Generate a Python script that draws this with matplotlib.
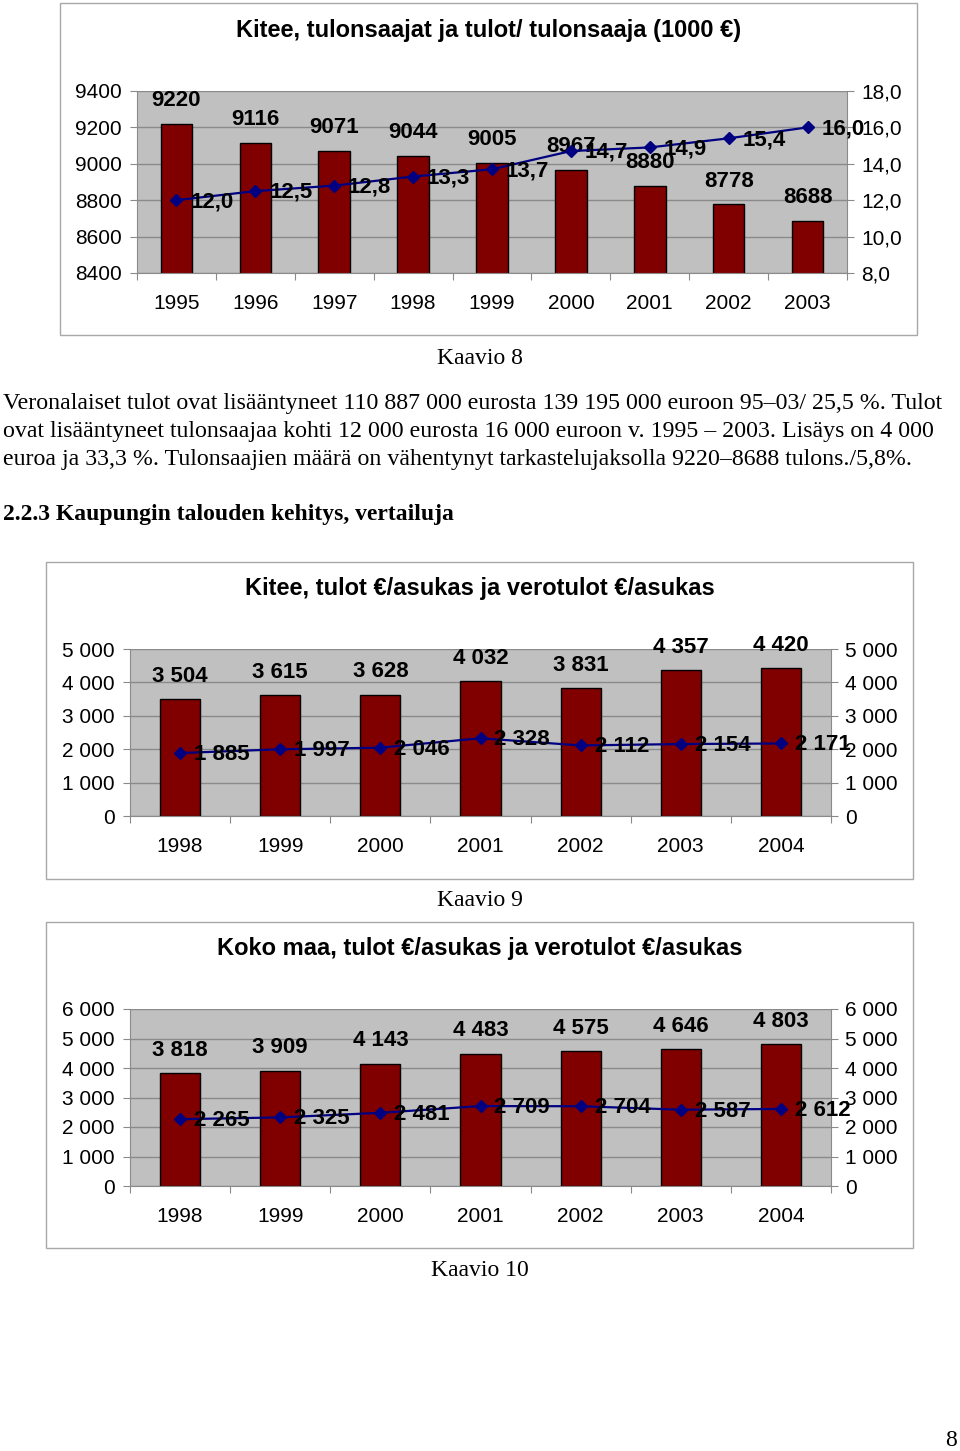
import matplotlib.pyplot as plt
import numpy as np
from matplotlib.patches import Rectangle
from matplotlib.ticker import FixedLocator

# --- data ---
years1 = ['1995', '1996', '1997', '1998', '1999', '2000', '2001', '2002', '2003']
earners1 = [9220, 9116, 9071, 9044, 9005, 8967, 8880, 8778, 8688]
income1 = [12.0, 12.5, 12.8, 13.3, 13.7, 14.7, 14.9, 15.4, 16.0]

years2 = ['1998', '1999', '2000', '2001', '2002', '2003', '2004']
kitee_income = [3504, 3615, 3628, 4032, 3831, 4357, 4420]
kitee_tax = [1885, 1997, 2046, 2328, 2112, 2154, 2171]

whole_income = [3818, 3909, 4143, 4483, 4575, 4646, 4803]
whole_tax = [2265, 2325, 2481, 2709, 2704, 2587, 2612]

title1 = 'Kitee, tulonsaajat ja tulot/ tulonsaaja (1000 €)'
title2 = 'Kitee, tulot €/asukas ja verotulot €/asukas'
title3 = 'Koko maa, tulot €/asukas ja verotulot €/asukas'

para = ['Veronalaiset tulot ovat lisääntyneet 110 887 000 eurosta 139 195 000 euroon 95–03/ 25,5 %. Tulot',
        'ovat lisääntyneet tulonsaajaa kohti 12 000 eurosta 16 000 euroon v. 1995 – 2003. Lisäys on 4 000',
        'euroa ja 33,3 %. Tulonsaajien määrä on vähentynyt tarkastelujaksolla 9220–8688 tulons./5,8%.']
heading = '2.2.3 Kaupungin talouden kehitys, vertailuja'

W, H = 960, 1451
SANS = 'Liberation Sans'
SERIF = 'Liberation Serif'
BAR = '#800000'
LINE = '#000080'
BG = '#c0c0c0'
GRID = '#8a8a8a'
TICK_FS = 15
LAB_FS = 16

fig = plt.figure(figsize=(W / 100, H / 100), dpi=100)


def axes_px(l, t, r, b):
    return fig.add_axes([l / W, 1 - b / H, (r - l) / W, (b - t) / H])


def ftext(x, y, s, **kw):
    fig.text(x / W, 1 - y / H, s, **kw)


def frame(l, t, r, b):
    fig.add_artist(Rectangle((l / W, 1 - b / H), (r - l) / W, (b - t) / H,
                             transform=fig.transFigure, fill=False,
                             ec='#a8a8a8', lw=1))


def sp(v):
    return f'{v:,}'.replace(',', ' ')


def combo(box, cats, bars, line, ylim, step, fmt_l, fmt_r, ylim2, step2, lab_bar, lab_line):
    ax = axes_px(*box)
    n = len(cats)
    x = np.arange(n)
    ax.set_facecolor(BG)
    ax.bar(x, bars, width=0.4, color=BAR, edgecolor='black', lw=1, zorder=2)
    ax.set_xlim(-0.5, n - 0.5)
    ax.set_ylim(*ylim)
    yt = np.arange(ylim[0], ylim[1] + step / 2, step)
    ax.set_yticks(yt)
    ax.set_yticklabels([fmt_l(v) for v in yt])
    ax.yaxis.grid(True, color=GRID, lw=1, zorder=1)
    ax.set_axisbelow(True)
    ax.set_xticks(np.arange(-0.5, n, 1.0))
    ax.set_xticklabels([])
    ax.xaxis.set_minor_locator(FixedLocator(x))
    ax.set_xticks(x, minor=True)
    ax.set_xticklabels(cats, minor=True)
    ax.tick_params(axis='x', which='major', length=5, color=GRID)
    ax.tick_params(axis='x', which='minor', length=0, pad=15, labelsize=TICK_FS)
    ax.tick_params(axis='y', length=5, color=GRID, pad=6, labelsize=TICK_FS)
    for s in ['top', 'right']:
        ax.spines[s].set_visible(False)
    for s in ['left', 'bottom']:
        ax.spines[s].set_color(GRID)
    for xi, v in zip(x, bars):
        ax.annotate(lab_bar(v), (xi, v), xytext=(0, 16.5), textcoords='offset points',
                    ha='center', va='center', fontsize=LAB_FS, fontweight='bold',
                    fontfamily=SANS, annotation_clip=False)

    ax2 = ax.twinx()
    ax2.plot(x, line, color=LINE, lw=1.6, marker='D', ms=6.5, mfc=LINE, mec=LINE, zorder=3)
    ax2.set_ylim(*ylim2)
    yt2 = np.arange(ylim2[0], ylim2[1] + step2 / 2, step2)
    ax2.set_yticks(yt2)
    ax2.set_yticklabels([fmt_r(v) for v in yt2])
    ax2.tick_params(axis='y', length=5, color=GRID, pad=5, labelsize=TICK_FS)
    for s in ['top', 'left', 'bottom']:
        ax2.spines[s].set_visible(False)
    ax2.spines['right'].set_color(GRID)
    for xi, v in zip(x, line):
        ax2.annotate(lab_line(v), (xi, v), xytext=(10, -1), textcoords='offset points',
                     ha='left', va='center', fontsize=LAB_FS, fontweight='bold',
                     fontfamily=SANS, annotation_clip=False)
    return ax, ax2


plt.rcParams['font.family'] = [SANS, 'DejaVu Sans']

# chart 1
frame(60, 3, 917, 335)
ftext(489, 30, title1, ha='center', va='center', fontsize=17, fontweight='bold')
combo((137, 91, 847, 273), years1, earners1, income1, (8400, 9400), 200,
      lambda v: f'{int(v)}', lambda v: f'{v:.1f}'.replace('.', ','),
      (8, 18), 2, lambda v: f'{v}', lambda v: f'{v:.1f}'.replace('.', ','))

ftext(480, 358, 'Kaavio 8', ha='center', va='center', fontsize=17, fontfamily=SERIF)
for i, line in enumerate(para):
    ftext(3, 404 + i * 27.5, line, ha='left', va='center', fontsize=17.2, fontfamily=SERIF)
ftext(3, 514, heading, ha='left', va='center', fontsize=17, fontweight='bold', fontfamily=SERIF)

# chart 2
frame(46, 562, 913, 879)
ftext(480, 588, title2, ha='center', va='center', fontsize=17, fontweight='bold')
combo((130, 649, 831, 816), years2, kitee_income, kitee_tax, (0, 5000), 1000,
      lambda v: sp(int(v)), lambda v: sp(int(v)),
      (0, 5000), 1000, sp, sp)
ftext(480, 901, 'Kaavio 9', ha='center', va='center', fontsize=17, fontfamily=SERIF)

# chart 3
frame(46, 922, 913, 1248)
ftext(480, 948, title3, ha='center', va='center', fontsize=17, fontweight='bold')
combo((130, 1009, 831, 1186), years2, whole_income, whole_tax, (0, 6000), 1000,
      lambda v: sp(int(v)), lambda v: sp(int(v)),
      (0, 6000), 1000, sp, sp)
ftext(480, 1270, 'Kaavio 10', ha='center', va='center', fontsize=17, fontfamily=SERIF)

ftext(951, 1441, '8', ha='center', va='center', fontsize=17, fontfamily=SERIF)

fig.savefig('out.png', dpi=100)
